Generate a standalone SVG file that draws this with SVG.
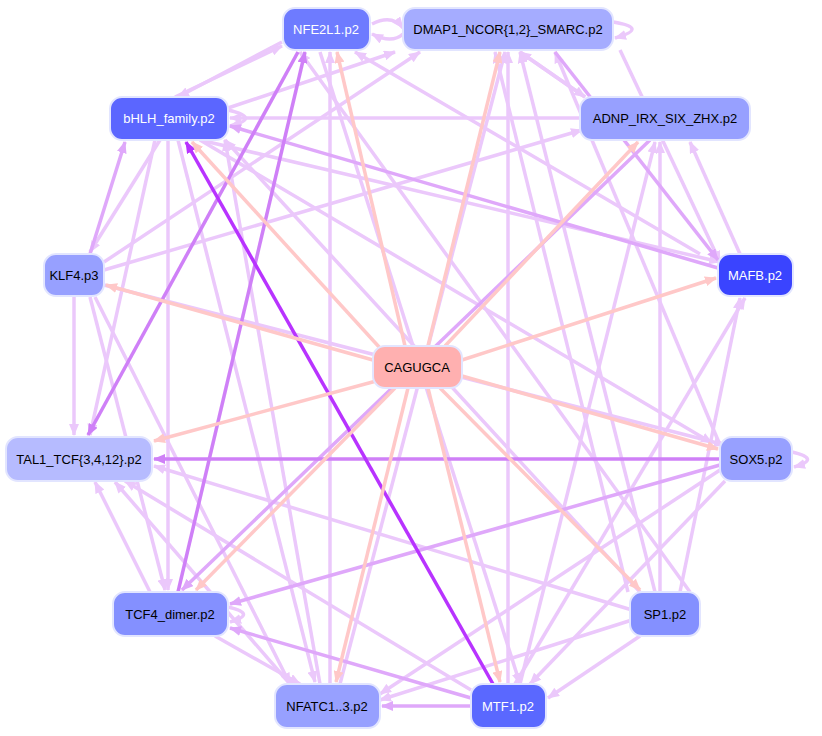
<svg xmlns="http://www.w3.org/2000/svg" width="822" height="736" viewBox="0 0 822 736">
<style>
.n rect{stroke:#e2e5ff;stroke-width:2}
.n text{font-family:"Liberation Sans",Arial,sans-serif;font-size:13px;text-anchor:middle;dominant-baseline:central}
.w text{fill:#fff}
#E line,#E path{fill:none;stroke-width:3.5}
.p{stroke:#ffc8c8;marker-end:url(#mp)}
.l{stroke:#ebc8fb;marker-end:url(#ml)}
.m{stroke:#dfa8fa;marker-end:url(#mm)}
.s{stroke:#cf80f7;marker-end:url(#ms)}
.v{stroke:#b833ff;marker-end:url(#mv)}
</style>
<defs>
<marker id="mp" markerUnits="userSpaceOnUse" markerWidth="12" markerHeight="10" refX="11" refY="5" orient="auto"><path d="M0,0L12,5L0,10z" fill="#ffc8c8"/></marker>
<marker id="ml" markerUnits="userSpaceOnUse" markerWidth="12" markerHeight="10" refX="11" refY="5" orient="auto"><path d="M0,0L12,5L0,10z" fill="#ebc8fb"/></marker>
<marker id="mm" markerUnits="userSpaceOnUse" markerWidth="12" markerHeight="10" refX="11" refY="5" orient="auto"><path d="M0,0L12,5L0,10z" fill="#dfa8fa"/></marker>
<marker id="ms" markerUnits="userSpaceOnUse" markerWidth="12" markerHeight="10" refX="11" refY="5" orient="auto"><path d="M0,0L12,5L0,10z" fill="#cf80f7"/></marker>
<marker id="mv" markerUnits="userSpaceOnUse" markerWidth="12" markerHeight="10" refX="11" refY="5" orient="auto"><path d="M0,0L12,5L0,10z" fill="#b833ff"/></marker>
</defs>
<rect width="822" height="736" fill="#fff"/>
<g id="E">
<line class="l" x1="104" y1="262" x2="420" y2="52"/>
<line class="l" x1="104" y1="270" x2="582" y2="130"/>
<line class="l" x1="74" y1="297" x2="74" y2="435"/>
<line class="l" x1="95" y1="297" x2="290" y2="684"/>
<line class="l" x1="90" y1="297" x2="165" y2="590"/>
<line class="l" x1="160" y1="140" x2="90" y2="252"/>
<line class="l" x1="155" y1="140" x2="90" y2="435"/>
<line class="l" x1="168" y1="140" x2="168" y2="590"/>
<line class="l" x1="178" y1="140" x2="315" y2="682"/>
<line class="l" x1="200" y1="140" x2="712" y2="443"/>
<line class="l" x1="175" y1="97" x2="282" y2="46"/>
<line class="l" x1="282" y1="42" x2="178" y2="97"/>
<line class="l" x1="228" y1="108" x2="395" y2="52"/>
<line class="l" x1="580" y1="118" x2="230" y2="118"/>
<line class="l" x1="585" y1="97" x2="520" y2="52"/>
<line class="l" x1="520" y1="52" x2="585" y2="97"/>
<line class="l" x1="700" y1="254" x2="355" y2="52"/>
<line class="l" x1="628" y1="592" x2="495" y2="52"/>
<line class="l" x1="640" y1="592" x2="225" y2="140"/>
<line class="l" x1="655" y1="592" x2="520" y2="52"/>
<line class="l" x1="660" y1="592" x2="660" y2="142"/>
<line class="l" x1="632" y1="610" x2="154" y2="466"/>
<line class="l" x1="632" y1="620" x2="380" y2="700"/>
<line class="l" x1="640" y1="636" x2="548" y2="698"/>
<line class="l" x1="508" y1="684" x2="508" y2="52"/>
<line class="l" x1="515" y1="684" x2="745" y2="298"/>
<line class="l" x1="520" y1="684" x2="655" y2="142"/>
<line class="l" x1="471" y1="690" x2="125" y2="481"/>
<line class="l" x1="330" y1="684" x2="330" y2="52"/>
<line class="l" x1="340" y1="684" x2="505" y2="52"/>
<line class="l" x1="320" y1="684" x2="225" y2="140"/>
<line class="l" x1="290" y1="684" x2="115" y2="482"/>
<line class="l" x1="720" y1="470" x2="380" y2="694"/>
<line class="l" x1="725" y1="481" x2="530" y2="684"/>
<line class="l" x1="150" y1="592" x2="95" y2="482"/>
<line class="l" x1="215" y1="636" x2="300" y2="684"/>
<line class="l" x1="740" y1="254" x2="690" y2="142"/>
<line class="l" x1="680" y1="592" x2="740" y2="298"/>
<line class="l" x1="690" y1="592" x2="300" y2="52"/>
<line class="l" x1="720" y1="445" x2="555" y2="52"/>
<line class="l" x1="200" y1="140" x2="720" y2="262"/>
<line class="l" x1="104" y1="285" x2="725" y2="445"/>
<line class="l" x1="320" y1="52" x2="520" y2="684"/>
<line class="l" x1="620" y1="50" x2="720" y2="262"/>
<path class="l" d="M372,24 Q392,14 403,28"/>
<path class="l" d="M403,34 Q392,44 372,34"/>
<path class="l" d="M613,22 Q650,28 615,38"/>
<path class="l" d="M228,110 Q262,118 230,126"/>
<path class="l" d="M228,607 Q258,614 230,622"/>
<path class="l" d="M792,452 Q822,459 794,467"/>
<line class="m" x1="718" y1="268" x2="230" y2="126"/>
<line class="m" x1="471" y1="698" x2="230" y2="628"/>
<line class="m" x1="471" y1="706" x2="382" y2="706"/>
<line class="m" x1="650" y1="140" x2="182" y2="590"/>
<line class="m" x1="555" y1="52" x2="718" y2="260"/>
<line class="m" x1="90" y1="254" x2="125" y2="142"/>
<line class="m" x1="720" y1="465" x2="230" y2="604"/>
<line class="s" x1="720" y1="459" x2="154" y2="459"/>
<line class="s" x1="178" y1="592" x2="305" y2="52"/>
<line class="s" x1="298" y1="52" x2="88" y2="435"/>
<line class="v" x1="493" y1="684" x2="186" y2="142"/>
<line class="p" x1="405" y1="346" x2="337" y2="52"/>
<line class="p" x1="428" y1="346" x2="500" y2="52"/>
<line class="p" x1="380" y1="348" x2="192" y2="142"/>
<line class="p" x1="445" y1="346" x2="638" y2="142"/>
<line class="p" x1="373" y1="360" x2="106" y2="285"/>
<line class="p" x1="462" y1="360" x2="716" y2="278"/>
<line class="p" x1="380" y1="380" x2="154" y2="441"/>
<line class="p" x1="462" y1="376" x2="718" y2="449"/>
<line class="p" x1="395" y1="388" x2="196" y2="590"/>
<line class="p" x1="440" y1="388" x2="640" y2="590"/>
<line class="p" x1="408" y1="388" x2="336" y2="682"/>
<line class="p" x1="428" y1="388" x2="500" y2="682"/>
</g>
<g id="NFE2L1" class="n w"><rect x="283" y="8" width="87" height="42" rx="12" fill="#6e7bff"/><text x="326" y="29">NFE2L1.p2</text></g>
<g id="DMAP1" class="n"><rect x="403" y="8" width="210" height="42" rx="12" fill="#a5acff"/><text x="508" y="29">DMAP1_NCOR{1,2}_SMARC.p2</text></g>
<g id="bHLH" class="n w"><rect x="110" y="97" width="118" height="43" rx="12" fill="#5b66ff"/><text x="169" y="118">bHLH_family.p2</text></g>
<g id="ADNP" class="n"><rect x="580" y="97" width="170" height="43" rx="12" fill="#97a0ff"/><text x="665" y="118">ADNP_IRX_SIX_ZHX.p2</text></g>
<g id="KLF4" class="n"><rect x="44" y="254" width="60" height="42" rx="12" fill="#97a0ff"/><text x="74" y="275">KLF4.p3</text></g>
<g id="MAFB" class="n w"><rect x="718" y="254" width="75" height="42" rx="12" fill="#3a44ff"/><text x="755" y="275">MAFB.p2</text></g>
<g id="CAGUGCA" class="n"><rect x="373" y="346" width="89" height="42" rx="12" fill="#ffb0b0"/><text x="417" y="367">CAGUGCA</text></g>
<g id="TAL1" class="n"><rect x="6" y="437" width="146" height="44" rx="12" fill="#b6bbff"/><text x="79" y="459">TAL1_TCF{3,4,12}.p2</text></g>
<g id="SOX5" class="n"><rect x="720" y="437" width="72" height="44" rx="12" fill="#97a0ff"/><text x="756" y="459">SOX5.p2</text></g>
<g id="TCF4" class="n"><rect x="113" y="592" width="115" height="44" rx="12" fill="#8490ff"/><text x="170" y="614">TCF4_dimer.p2</text></g>
<g id="SP1" class="n"><rect x="630" y="592" width="70" height="44" rx="12" fill="#8490ff"/><text x="665" y="614">SP1.p2</text></g>
<g id="NFATC1" class="n"><rect x="275" y="684" width="105" height="44" rx="12" fill="#97a0ff"/><text x="327" y="706">NFATC1..3.p2</text></g>
<g id="MTF1" class="n w"><rect x="471" y="684" width="75" height="44" rx="12" fill="#5a68ff"/><text x="508" y="706">MTF1.p2</text></g>
</svg>
